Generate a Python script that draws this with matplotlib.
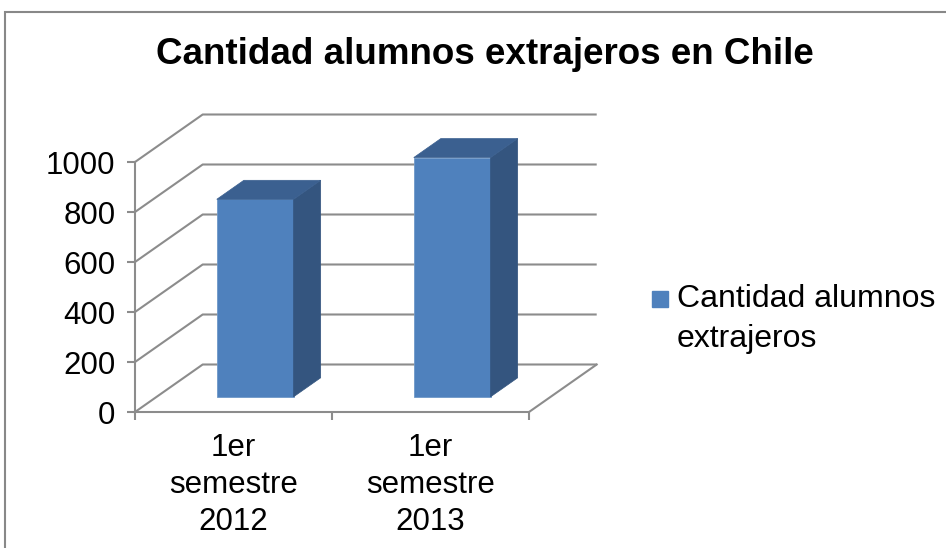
import matplotlib
matplotlib.use("Agg")
import matplotlib.pyplot as plt
from matplotlib.patches import Polygon, Rectangle

categories = ["1er\nsemestre\n2012", "1er\nsemestre\n2013"]
values = [790, 957]
y_ticks = [0, 200, 400, 600, 800, 1000]
series_name = "Cantidad alumnos\nextrajeros"
title = "Cantidad alumnos extrajeros en Chile"

W, H = 946, 548
fig = plt.figure(figsize=(W / 100, H / 100), dpi=100)
fig.patch.set_facecolor("white")
plt.rcParams["font.family"] = ["Liberation Sans", "DejaVu Sans"]

# outer chart frame
fig.add_artist(Rectangle((5 / W, -0.05), 1.2, 1 - 12 / H + 0.05, transform=fig.transFigure,
                         fill=False, edgecolor="#888888", linewidth=1.5))

x0, x1 = 135, 529
yb, yt = 412, 162
ax = fig.add_axes([x0 / W, (H - yb) / H, (x1 - x0) / W, (yb - yt) / H])
ax.set_xlim(-0.5, 1.5)
ax.set_ylim(0, 1000)
ax.set_facecolor("none")

grid_c = "#8c8c8c"
DX = 67.7 / 197.0          # depth offset in x data units
DY = 47.5 / 0.25           # depth offset in value units

for s in ["top", "right"]:
    ax.spines[s].set_visible(False)
for s in ["left", "bottom"]:
    ax.spines[s].set_color(grid_c)
    ax.spines[s].set_linewidth(1.5)

ax.set_yticks(y_ticks)
ax.set_yticklabels([str(v) for v in y_ticks], fontsize=22.5)
ax.set_xticks([-0.5, 0.5, 1.5])
ax.set_xticklabels([])
ax.set_xticks([0, 1], minor=True)
ax.set_xticklabels(categories, minor=True, fontsize=22.5, linespacing=1.3)
ax.tick_params(axis="y", length=6, width=1.5, color=grid_c, pad=8)
ax.tick_params(axis="x", which="major", length=6, width=1.5, color=grid_c)
ax.tick_params(axis="x", which="minor", length=0, pad=15)

# back wall gridlines, side wall diagonals, floor
xl, xr = -0.5, 1.5
for v in y_ticks:
    ax.plot([xl, xl + DX, xr + DX], [v, v + DY, v + DY], color=grid_c, lw=1.5,
            clip_on=False, zorder=1, solid_capstyle="butt")
ax.plot([xr, xr + DX], [0, DY], color=grid_c, lw=1.5, clip_on=False, zorder=1)

# 3D bars
f0, f1 = 0.32, 0.72
bw = 0.39
front_c, side_c, top_c = "#4F81BD", "#34557F", "#3B6090"
for i, v in enumerate(values):
    xc = i + f0 * DX
    ax.bar([xc], [v], bottom=f0 * DY, width=bw, color=front_c, edgecolor="#6f98c8",
           linewidth=0.6, zorder=3, clip_on=False)
    r = i + bw / 2
    l = i - bw / 2
    side = [(r + f0 * DX, f0 * DY), (r + f1 * DX, f1 * DY),
            (r + f1 * DX, v + f1 * DY), (r + f0 * DX, v + f0 * DY)]
    top = [(l + f0 * DX, v + f0 * DY), (r + f0 * DX, v + f0 * DY),
           (r + f1 * DX, v + f1 * DY), (l + f1 * DX, v + f1 * DY)]
    ax.add_patch(Polygon(side, closed=True, facecolor=side_c, edgecolor=side_c,
                         lw=0.5, zorder=3, clip_on=False))
    ax.add_patch(Polygon(top, closed=True, facecolor=top_c, edgecolor=top_c,
                         lw=0.5, zorder=3, clip_on=False))

fig.text(485 / W, 1 - 54 / H, title, ha="center", va="center", fontsize=26.5,
         fontweight="bold", color="black")

# legend (square aligned with first text line)
fig.add_artist(Rectangle((652 / W, 1 - 307 / H), 16 / W, 16 / H, transform=fig.transFigure,
                         facecolor=front_c, edgecolor=front_c))
fig.text(677 / W, 1 - 284 / H, series_name, ha="left", va="top", fontsize=23,
         linespacing=1.42, color="black")

fig.savefig("out.png", dpi=100, facecolor="white")
